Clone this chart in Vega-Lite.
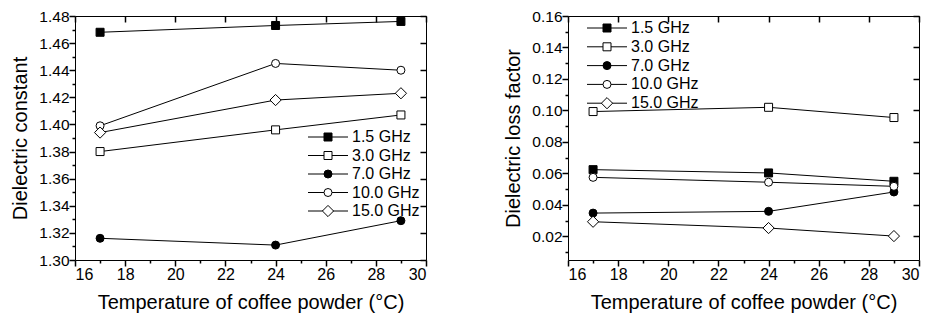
{
  "$schema": "https://vega.github.io/schema/vega-lite/v6.json",
  "padding": {"left": 10, "top": 8, "right": 5, "bottom": 5},
  "background": "white",
  "datasets": {
    "constant": [
      {"series": "1.5 GHz", "temp": 17, "value": 1.468},
      {"series": "1.5 GHz", "temp": 24, "value": 1.473},
      {"series": "1.5 GHz", "temp": 29, "value": 1.476},
      {"series": "3.0 GHz", "temp": 17, "value": 1.380},
      {"series": "3.0 GHz", "temp": 24, "value": 1.396},
      {"series": "3.0 GHz", "temp": 29, "value": 1.407},
      {"series": "7.0 GHz", "temp": 17, "value": 1.316},
      {"series": "7.0 GHz", "temp": 24, "value": 1.311},
      {"series": "7.0 GHz", "temp": 29, "value": 1.329},
      {"series": "10.0 GHz", "temp": 17, "value": 1.399},
      {"series": "10.0 GHz", "temp": 24, "value": 1.445},
      {"series": "10.0 GHz", "temp": 29, "value": 1.440},
      {"series": "15.0 GHz", "temp": 17, "value": 1.394},
      {"series": "15.0 GHz", "temp": 24, "value": 1.418},
      {"series": "15.0 GHz", "temp": 29, "value": 1.423}
    ],
    "loss": [
      {"series": "1.5 GHz", "temp": 17, "value": 0.0624},
      {"series": "1.5 GHz", "temp": 24, "value": 0.0603},
      {"series": "1.5 GHz", "temp": 29, "value": 0.0550},
      {"series": "3.0 GHz", "temp": 17, "value": 0.0993},
      {"series": "3.0 GHz", "temp": 24, "value": 0.1020},
      {"series": "3.0 GHz", "temp": 29, "value": 0.0955},
      {"series": "7.0 GHz", "temp": 17, "value": 0.0348},
      {"series": "7.0 GHz", "temp": 24, "value": 0.0359},
      {"series": "7.0 GHz", "temp": 29, "value": 0.0482},
      {"series": "10.0 GHz", "temp": 17, "value": 0.0575},
      {"series": "10.0 GHz", "temp": 24, "value": 0.0544},
      {"series": "10.0 GHz", "temp": 29, "value": 0.0518},
      {"series": "15.0 GHz", "temp": 17, "value": 0.0293},
      {"series": "15.0 GHz", "temp": 24, "value": 0.0253},
      {"series": "15.0 GHz", "temp": 29, "value": 0.0202}
    ]
  },
  "spacing": 75,
  "resolve": {"scale": {"shape": "independent", "fill": "independent", "stroke": "independent", "x": "independent", "y": "independent"}},
  "hconcat": [
    {
      "width": 351, "height": 244,
      "data": {"name": "constant"},
      "resolve": {"axis": {"x": "independent", "y": "independent"}},
      "layer": [
        {
          "mark": {"type": "line", "strokeWidth": 1},
          "encoding": {
            "x": {"field": "temp", "type": "quantitative", "scale": {"domain": [16, 30], "nice": false},
              "axis": {"orient": "bottom", "title": "Temperature of coffee powder (°C)",
                "values": [16,18,20,22,24,26,28,30], "tickSize": 6, "tickColor": "#000000", "tickWidth": 1.5,
                "labelPadding": 0, "labelFontSize": 16, "titleFontSize": 20, "titlePadding": 10}},
            "y": {"field": "value", "type": "quantitative", "scale": {"domain": [1.30, 1.48], "nice": false, "zero": false},
              "axis": {"orient": "left", "title": "Dielectric constant", "format": ".2f",
                "values": [1.30,1.32,1.34,1.36,1.38,1.40,1.42,1.44,1.46,1.48], "tickSize": 6, "tickColor": "#000000", "tickWidth": 1.5,
                "labelPadding": 0, "labelFontSize": 15.5, "titleFontSize": 20, "titlePadding": 8}},
            "stroke": {"field": "series", "type": "nominal",
              "scale": {"domain": ["15.0 GHz","10.0 GHz","7.0 GHz","3.0 GHz","1.5 GHz"],
                "range": ["black","black","black","black","black"]},
              "legend": {"title": null, "orient": "none", "legendX": 245, "legendY": 113, "zindex": 0,
                "values": ["1.5 GHz","3.0 GHz","7.0 GHz","10.0 GHz","15.0 GHz"],
                "symbolType": "M-5,0H5", "symbolSize": 64, "symbolStrokeWidth": 1, "symbolStrokeColor": "black",
                "labelFontSize": 16, "labelColor": "transparent", "labelFont": "Liberation Sans",
                "rowPadding": 2.5, "labelOffset": 16, "padding": 0}}
          }
        },
        {
          "mark": {"type": "line", "strokeOpacity": 0},
          "encoding": {
            "x": {"field": "temp", "type": "quantitative",
              "axis": {"orient": "bottom", "title": null, "labels": false, "values": [17,19,21,23,25,27,29], "tickSize": 3, "tickColor": "#000000", "tickWidth": 1.5}},
            "y": {"field": "value", "type": "quantitative",
              "axis": {"orient": "left", "title": null, "labels": false, "values": [1.31,1.33,1.35,1.37,1.39,1.41,1.43,1.45,1.47], "tickSize": 3, "tickColor": "#000000", "tickWidth": 1.5}},
            "detail": {"field": "series"}
          }
        },
        {
          "mark": {"type": "line", "strokeOpacity": 0},
          "encoding": {
            "x": {"field": "temp", "type": "quantitative",
              "axis": {"orient": "top", "title": null, "labels": false, "values": [16,18,20,22,24,26,28,30], "offset": -6, "tickSize": 6, "tickColor": "#000000", "tickWidth": 1.5}},
            "y": {"field": "value", "type": "quantitative",
              "axis": {"orient": "right", "title": null, "labels": false, "values": [1.30,1.32,1.34,1.36,1.38,1.40,1.42,1.44,1.46,1.48], "offset": -6, "tickSize": 6, "tickColor": "#000000", "tickWidth": 1.5}},
            "detail": {"field": "series"}
          }
        },
        {
          "mark": {"type": "point", "stroke": "black", "strokeWidth": 1, "opacity": 1, "size": 64},
          "encoding": {
            "x": {"field": "temp", "type": "quantitative", "axis": null},
            "y": {"field": "value", "type": "quantitative", "axis": null},
            "shape": {"field": "series", "type": "nominal",
              "scale": {"domain": ["1.5 GHz","3.0 GHz","7.0 GHz","10.0 GHz","15.0 GHz"],
                "range": ["square","square","circle","circle","M-1.4,0L0,-1.4L1.4,0L0,1.4Z"]},
              "legend": {"title": null, "orient": "none", "legendX": 245, "legendY": 113, "zindex": 1,
                "symbolSize": 64, "symbolStrokeWidth": 1, "labelFontSize": 16, "labelColor": "black", "labelFont": "Liberation Sans",
                "rowPadding": 2.5, "labelOffset": 16, "padding": 0,
                "encode": {"symbols": {"update": {
                  "fill": {"signal": "indexof(['1.5 GHz','7.0 GHz'], datum.value) >= 0 ? 'black' : 'white'"},
                  "stroke": {"value": "black"},
                  "strokeWidth": {"value": 1},
                  "opacity": {"value": 1}}}}}},
            "fill": {"field": "series", "type": "nominal", "legend": null,
              "scale": {"domain": ["1.5 GHz","3.0 GHz","7.0 GHz","10.0 GHz","15.0 GHz"],
                "range": ["black","white","black","white","white"]}}
          }
        }
      ]
    },
    {
      "width": 351, "height": 244,
      "data": {"name": "loss"},
      "resolve": {"axis": {"x": "independent", "y": "independent"}},
      "layer": [
        {
          "mark": {"type": "line", "strokeWidth": 1},
          "encoding": {
            "x": {"field": "temp", "type": "quantitative", "scale": {"domain": [16, 30], "nice": false},
              "axis": {"orient": "bottom", "title": "Temperature of coffee powder (°C)",
                "values": [16,18,20,22,24,26,28,30], "tickSize": 6, "tickColor": "#000000", "tickWidth": 1.5,
                "labelPadding": 0, "labelFontSize": 16, "titleFontSize": 20, "titlePadding": 10}},
            "y": {"field": "value", "type": "quantitative", "scale": {"domain": [0.005, 0.16], "nice": false, "zero": false},
              "axis": {"orient": "left", "title": "Dielectric loss factor", "format": ".2f",
                "values": [0.02,0.04,0.06,0.08,0.10,0.12,0.14,0.16], "tickSize": 6, "tickColor": "#000000", "tickWidth": 1.5,
                "labelPadding": 0, "labelFontSize": 15.5, "titleFontSize": 20, "titlePadding": 8}},
            "stroke": {"field": "series", "type": "nominal",
              "scale": {"domain": ["15.0 GHz","10.0 GHz","7.0 GHz","3.0 GHz","1.5 GHz"],
                "range": ["black","black","black","black","black"]},
              "legend": {"title": null, "orient": "none", "legendX": 31, "legendY": 4, "zindex": 0,
                "values": ["1.5 GHz","3.0 GHz","7.0 GHz","10.0 GHz","15.0 GHz"],
                "symbolType": "M-5,0H5", "symbolSize": 64, "symbolStrokeWidth": 1, "symbolStrokeColor": "black",
                "labelFontSize": 16, "labelColor": "transparent", "labelFont": "Liberation Sans",
                "rowPadding": 2.8, "labelOffset": 16, "padding": 0}}
          }
        },
        {
          "mark": {"type": "line", "strokeOpacity": 0},
          "encoding": {
            "x": {"field": "temp", "type": "quantitative",
              "axis": {"orient": "bottom", "title": null, "labels": false, "values": [17,19,21,23,25,27,29], "tickSize": 3, "tickColor": "#000000", "tickWidth": 1.5}},
            "y": {"field": "value", "type": "quantitative",
              "axis": {"orient": "left", "title": null, "labels": false, "values": [0.01,0.03,0.05,0.07,0.09,0.11,0.13,0.15], "tickSize": 3, "tickColor": "#000000", "tickWidth": 1.5}},
            "detail": {"field": "series"}
          }
        },
        {
          "mark": {"type": "line", "strokeOpacity": 0},
          "encoding": {
            "x": {"field": "temp", "type": "quantitative",
              "axis": {"orient": "top", "title": null, "labels": false, "values": [16,18,20,22,24,26,28,30], "offset": -6, "tickSize": 6, "tickColor": "#000000", "tickWidth": 1.5}},
            "y": {"field": "value", "type": "quantitative",
              "axis": {"orient": "right", "title": null, "labels": false, "values": [0.02,0.04,0.06,0.08,0.10,0.12,0.14,0.16], "offset": -6, "tickSize": 6, "tickColor": "#000000", "tickWidth": 1.5}},
            "detail": {"field": "series"}
          }
        },
        {
          "mark": {"type": "point", "stroke": "black", "strokeWidth": 1, "opacity": 1, "size": 64},
          "encoding": {
            "x": {"field": "temp", "type": "quantitative", "axis": null},
            "y": {"field": "value", "type": "quantitative", "axis": null},
            "shape": {"field": "series", "type": "nominal",
              "scale": {"domain": ["1.5 GHz","3.0 GHz","7.0 GHz","10.0 GHz","15.0 GHz"],
                "range": ["square","square","circle","circle","M-1.4,0L0,-1.4L1.4,0L0,1.4Z"]},
              "legend": {"title": null, "orient": "none", "legendX": 31, "legendY": 4, "zindex": 1,
                "symbolSize": 64, "symbolStrokeWidth": 1, "labelFontSize": 16, "labelColor": "black", "labelFont": "Liberation Sans",
                "rowPadding": 2.8, "labelOffset": 16, "padding": 0,
                "encode": {"symbols": {"update": {
                  "fill": {"signal": "indexof(['1.5 GHz','7.0 GHz'], datum.value) >= 0 ? 'black' : 'white'"},
                  "stroke": {"value": "black"},
                  "strokeWidth": {"value": 1},
                  "opacity": {"value": 1}}}}}},
            "fill": {"field": "series", "type": "nominal", "legend": null,
              "scale": {"domain": ["1.5 GHz","3.0 GHz","7.0 GHz","10.0 GHz","15.0 GHz"],
                "range": ["black","white","black","white","white"]}}
          }
        }
      ]
    }
  ],
  "config": {
    "font": "Liberation Sans",
    "view": {"stroke": "black", "strokeWidth": 1},
    "axis": {"domain": false, "grid": false, "labelColor": "black", "titleColor": "black",
      "labelFont": "Liberation Sans", "titleFont": "Liberation Sans", "titleFontWeight": "normal"}
  }
}
